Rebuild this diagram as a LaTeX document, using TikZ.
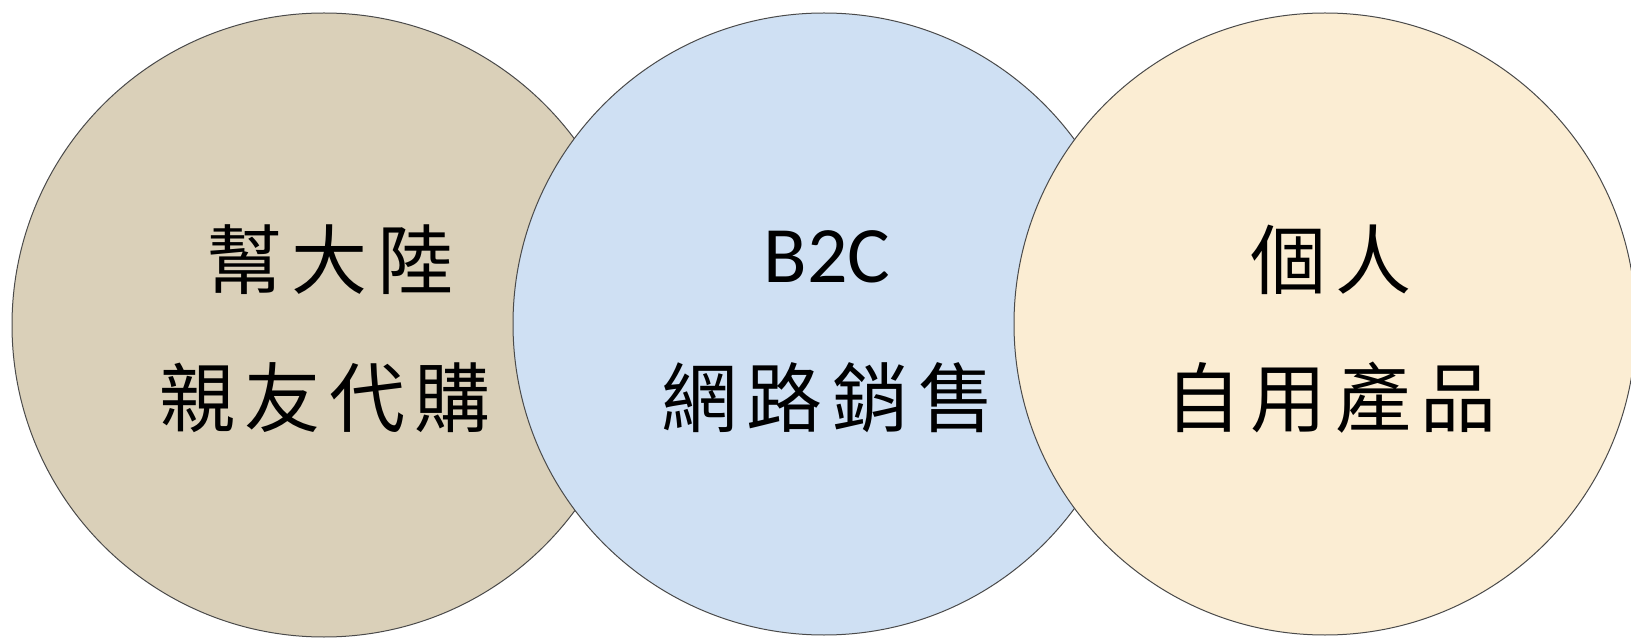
\documentclass[tikz,border=0pt]{standalone}
\usepackage{fontspec}
\newfontfamily\cjk[LetterSpace=12]{Noto Sans CJK TC}
\newfontfamily\latinf{Carlito}
\definecolor{linen}{HTML}{DAD0B9}
\definecolor{paperblue}{HTML}{CFE0F3}
\definecolor{cream}{HTML}{FBEDD3}
\definecolor{rim}{HTML}{4A4A4A}
\tikzset{
  disc/.style={circle, draw=rim, line width=1pt, inner sep=0pt, minimum size=#1},
  cjktext/.style={inner sep=0pt, font=\cjk\fontsize{76}{84}\selectfont, text=black},
  lattext/.style={inner sep=0pt, font=\latinf\fontsize{80}{90}\selectfont, text=black}
}
\begin{document}
\begin{tikzpicture}[x=1pt,y=1pt]
\useasboundingbox (0,0) rectangle (1631,638);
\clip (0,0) rectangle (1631,638);
\node[disc=624pt, fill=linen] (c1) at (324,313) {};
\node[disc=622pt, fill=paperblue] (c2) at (824,314) {};
\node[disc=622pt, fill=cream] (c3) at (1325,314) {};
\node[cjktext] (t1a) at (330,378) {幫大陸};
\node[cjktext] (t1b) at (325,240) {親友代購};
\node[lattext] (t2a) at (827,381) {B2C};
\node[cjktext] (t2b) at (828,240) {網路銷\hspace{10pt}售};
\node[cjktext] (t3a) at (1331,378) {個人};
\node[cjktext] (t3b) at (1331,240) {自用產品};
\end{tikzpicture}
\end{document}
